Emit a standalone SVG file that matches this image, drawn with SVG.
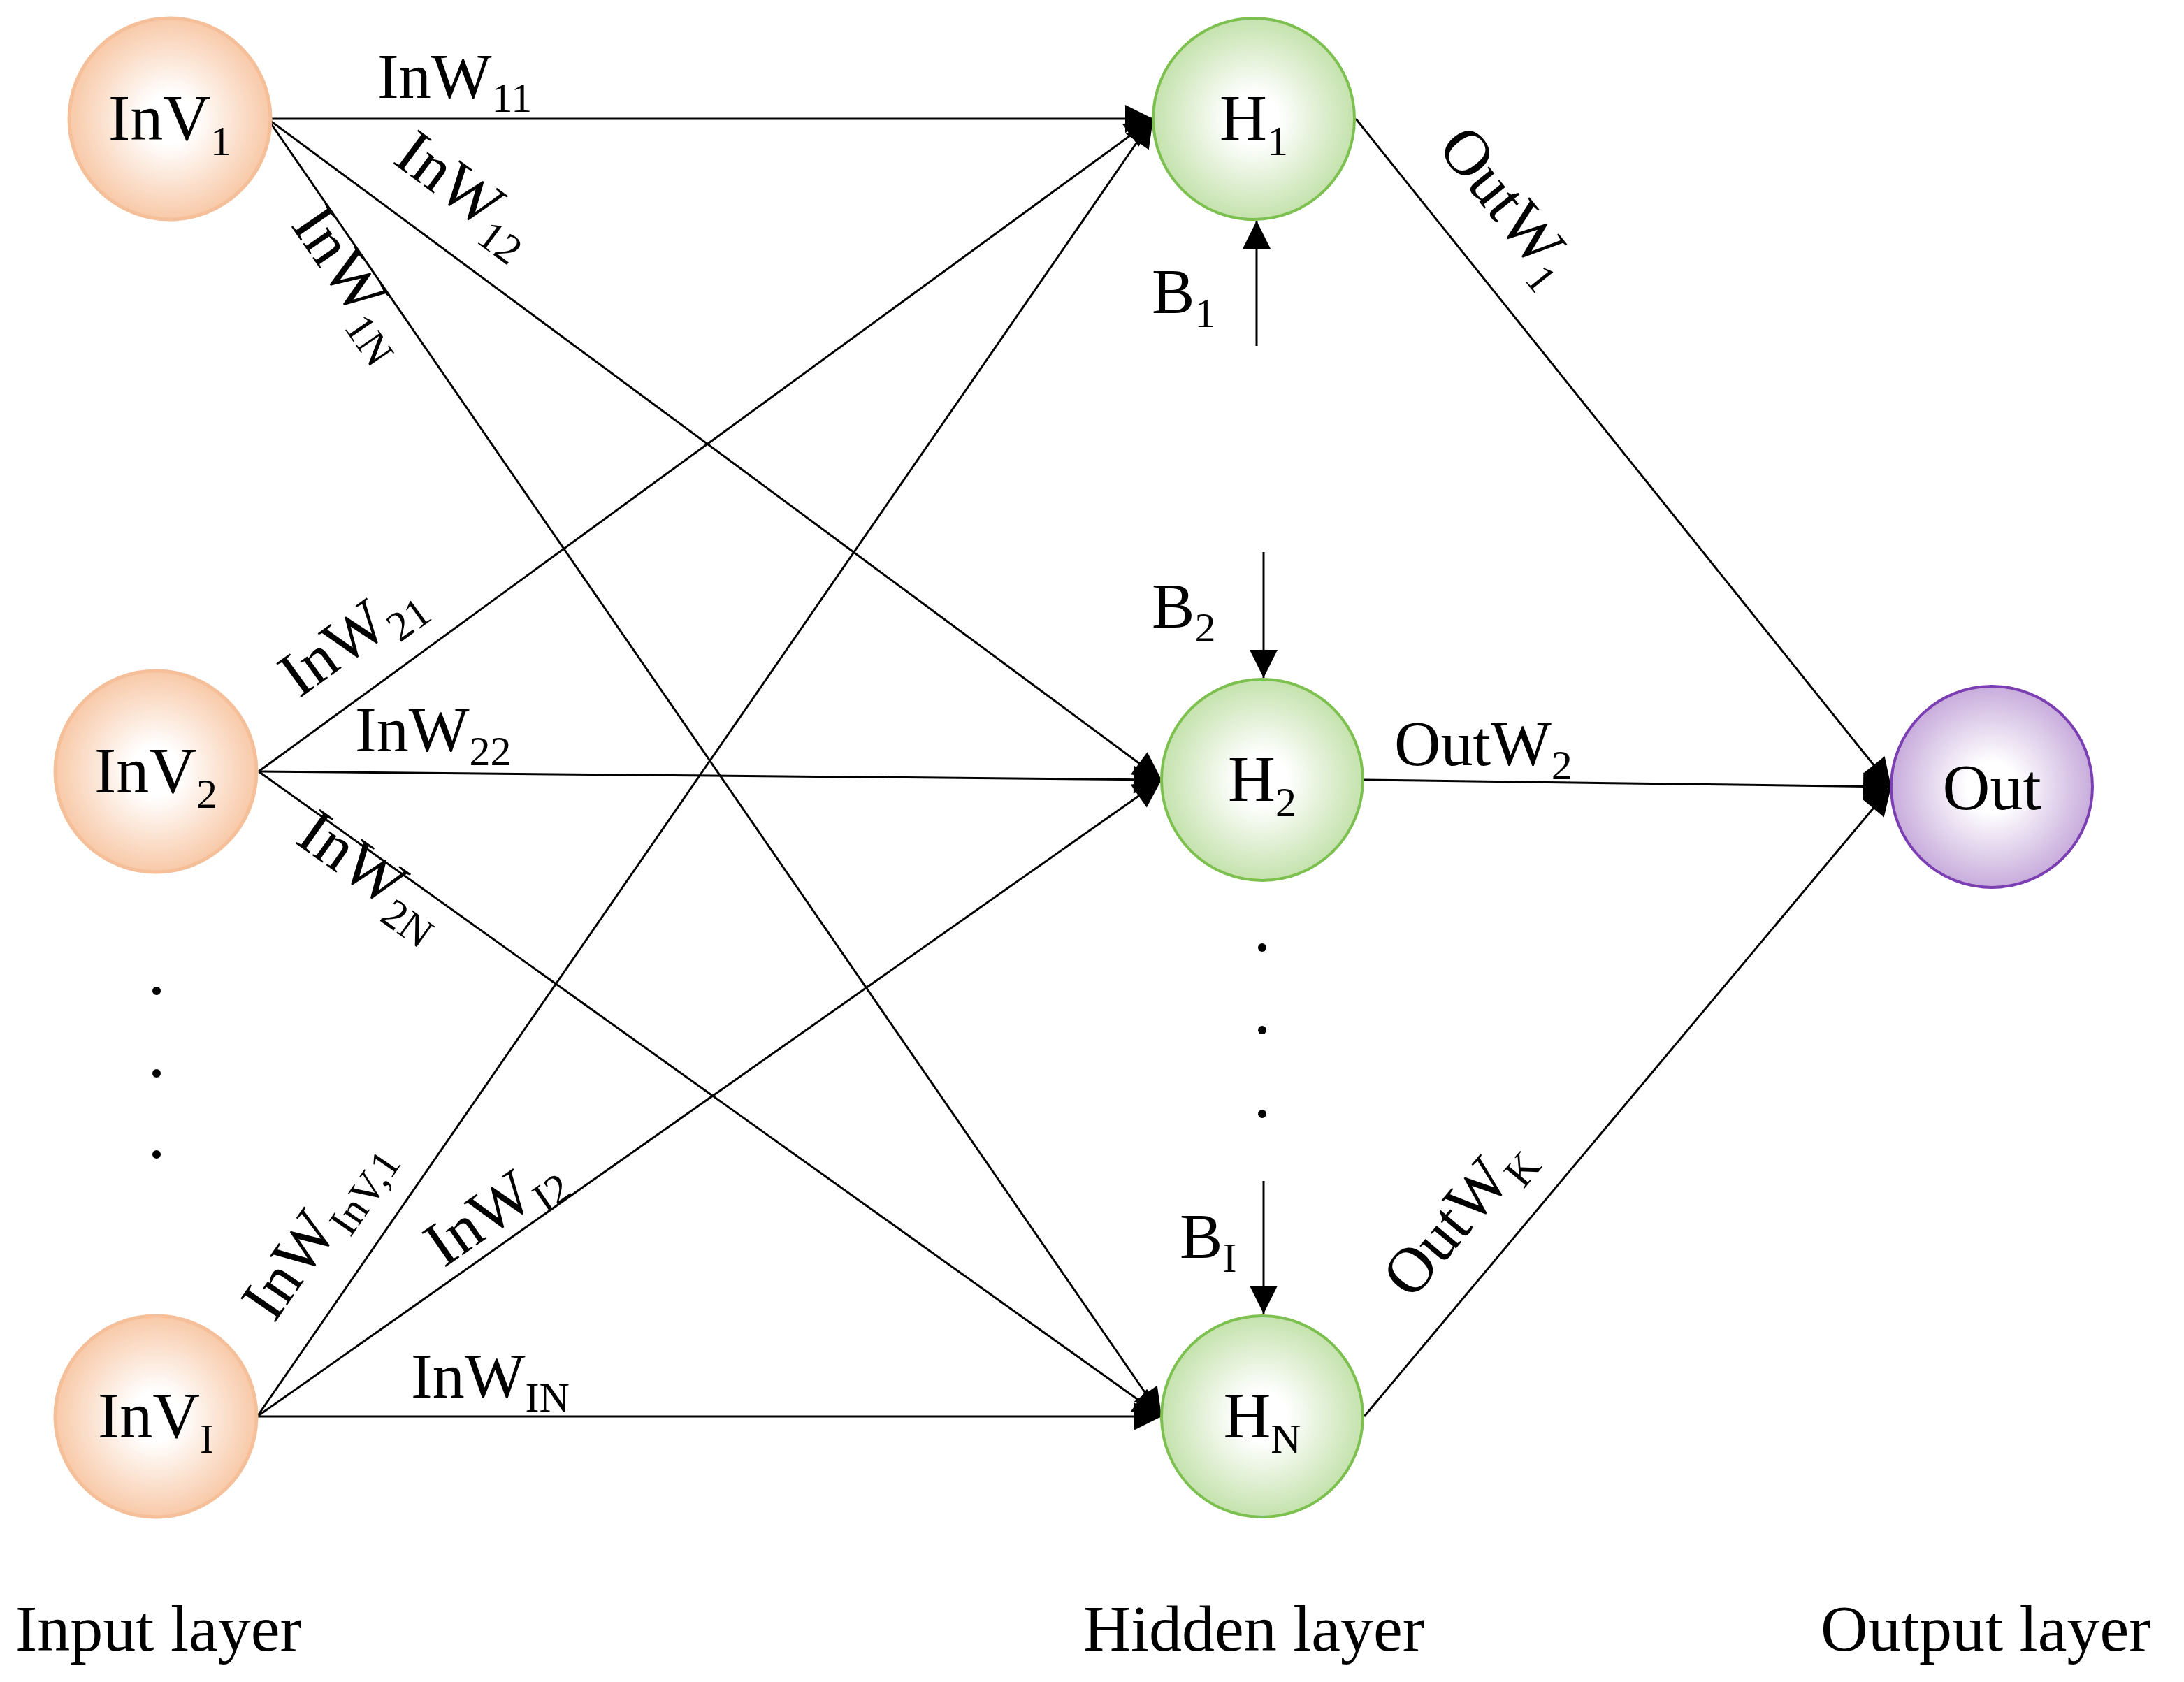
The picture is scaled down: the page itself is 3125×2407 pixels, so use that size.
<svg xmlns="http://www.w3.org/2000/svg" width="3125" height="2407" viewBox="0 0 3125 2407">
<style>
text{font-family:"Liberation Serif","Times New Roman",serif;fill:#000}
.n{font-size:94px}
.w{font-size:92px}
.s{font-size:60px}
.l{font-size:94px}
#edges line{stroke:#000;stroke-width:3}
.in{stroke:#f4bf99;stroke-width:5}
.hd{stroke:#7cc04f;stroke-width:4}
.ot{stroke:#7b3fb3;stroke-width:4}
</style>
<defs>
<radialGradient id="gI"><stop offset="0.25" stop-color="#fff"/><stop offset="1" stop-color="#f8c9a8"/></radialGradient>
<radialGradient id="gH"><stop offset="0.25" stop-color="#fff"/><stop offset="1" stop-color="#c5e2ad"/></radialGradient>
<radialGradient id="gO"><stop offset="0.25" stop-color="#fff"/><stop offset="1" stop-color="#c8acdc"/></radialGradient>
<marker id="a" viewBox="0 0 10 10" refX="10" refY="5" markerWidth="44" markerHeight="40" markerUnits="userSpaceOnUse" orient="auto"><path d="M0,0 L10,5 L0,10 z" fill="#000"/></marker>
</defs>
<g id="edges">
<line x1="383" y1="170" x2="1650" y2="170" marker-end="url(#a)"/>
<line x1="383" y1="170" x2="1662" y2="1116" marker-end="url(#a)"/>
<line x1="383" y1="170" x2="1662" y2="2027" marker-end="url(#a)"/>
<line x1="370" y1="1104" x2="1650" y2="170" marker-end="url(#a)"/>
<line x1="370" y1="1104" x2="1662" y2="1116" marker-end="url(#a)"/>
<line x1="370" y1="1104" x2="1662" y2="2027" marker-end="url(#a)"/>
<line x1="368" y1="2027" x2="1650" y2="170" marker-end="url(#a)"/>
<line x1="368" y1="2027" x2="1662" y2="1116" marker-end="url(#a)"/>
<line x1="368" y1="2027" x2="1662" y2="2027" marker-end="url(#a)"/>
<line x1="1940" y1="170" x2="2706" y2="1126" marker-end="url(#a)"/>
<line x1="1952" y1="1116" x2="2706" y2="1126" marker-end="url(#a)"/>
<line x1="1952" y1="2027" x2="2706" y2="1126" marker-end="url(#a)"/>
<line x1="1798" y1="495" x2="1798" y2="316" marker-end="url(#a)"/>
<line x1="1808" y1="790" x2="1808" y2="970" marker-end="url(#a)"/>
<line x1="1808" y1="1690" x2="1808" y2="1880" marker-end="url(#a)"/>
</g>
<g id="inv1"><circle cx="243" cy="170" r="144" fill="url(#gI)" class="in"/><text class="n" x="243" y="200" text-anchor="middle">InV<tspan class="s" dy="22">1</tspan></text></g>
<g id="inv2"><circle cx="223" cy="1104" r="144" fill="url(#gI)" class="in"/><text class="n" x="223" y="1134" text-anchor="middle">InV<tspan class="s" dy="22">2</tspan></text></g>
<g id="invI"><circle cx="223" cy="2027" r="144" fill="url(#gI)" class="in"/><text class="n" x="223" y="2057" text-anchor="middle">InV<tspan class="s" dy="22">I</tspan></text></g>
<g id="h1"><circle cx="1794" cy="170" r="144" fill="url(#gH)" class="hd"/><text class="n" x="1794" y="200" text-anchor="middle">H<tspan class="s" dy="22">1</tspan></text></g>
<g id="h2"><circle cx="1806" cy="1116" r="144" fill="url(#gH)" class="hd"/><text class="n" x="1806" y="1146" text-anchor="middle">H<tspan class="s" dy="22">2</tspan></text></g>
<g id="hN"><circle cx="1806" cy="2027" r="144" fill="url(#gH)" class="hd"/><text class="n" x="1806" y="2057" text-anchor="middle">H<tspan class="s" dy="22">N</tspan></text></g>
<g id="out"><circle cx="2850" cy="1126" r="144" fill="url(#gO)" class="ot"/><text class="n" x="2850" y="1158" text-anchor="middle">Out</text></g>
<g id="dots" fill="#000">
<circle cx="224" cy="1418" r="6"/><circle cx="224" cy="1536" r="6"/><circle cx="224" cy="1652" r="6"/>
<circle cx="1806" cy="1356" r="6"/><circle cx="1806" cy="1474" r="6"/><circle cx="1806" cy="1594" r="6"/>
</g>
<g id="labels">
<text class="w" x="540" y="140">InW<tspan class="s" dy="20">11</tspan></text>
<text class="w" transform="translate(560,232) rotate(36.5)">InW<tspan class="s" dy="20">12</tspan></text>
<text class="w" transform="translate(415,322) rotate(55.5)">InW<tspan class="s" dy="20">1N</tspan></text>
<text class="w" transform="translate(428,1000) rotate(-36)">InW<tspan class="s" dy="20">21</tspan></text>
<text class="w" x="508" y="1075">InW<tspan class="s" dy="20">22</tspan></text>
<text class="w" transform="translate(420,1205) rotate(35.5)">InW<tspan class="s" dy="20">2N</tspan></text>
<text class="w" transform="translate(392,1895) rotate(-55.4)">InW<tspan class="s" dy="20">InV,1</tspan></text>
<text class="w" transform="translate(635,1815) rotate(-35)">InW<tspan class="s" dy="20">I2</tspan></text>
<text class="w" x="588" y="2000">InW<tspan class="s" dy="20">IN</tspan></text>
<text class="w" transform="translate(2055,212) rotate(51.3)">OutW<tspan class="s" dy="20">1</tspan></text>
<text class="w" x="1995" y="1095">OutW<tspan class="s" dy="20">2</tspan></text>
<text class="w" transform="translate(2020,1862) rotate(-50)">OutW<tspan class="s" dy="20">K</tspan></text>
<text class="w" x="1648" y="448">B<tspan class="s" dy="20">1</tspan></text>
<text class="w" x="1648" y="898">B<tspan class="s" dy="20">2</tspan></text>
<text class="w" x="1688" y="1800">B<tspan class="s" dy="20">I</tspan></text>
<text class="l" x="22" y="2362">Input layer</text>
<text class="l" x="1550" y="2362">Hidden layer</text>
<text class="l" x="2605" y="2362">Output layer</text>
</g>
</svg>
